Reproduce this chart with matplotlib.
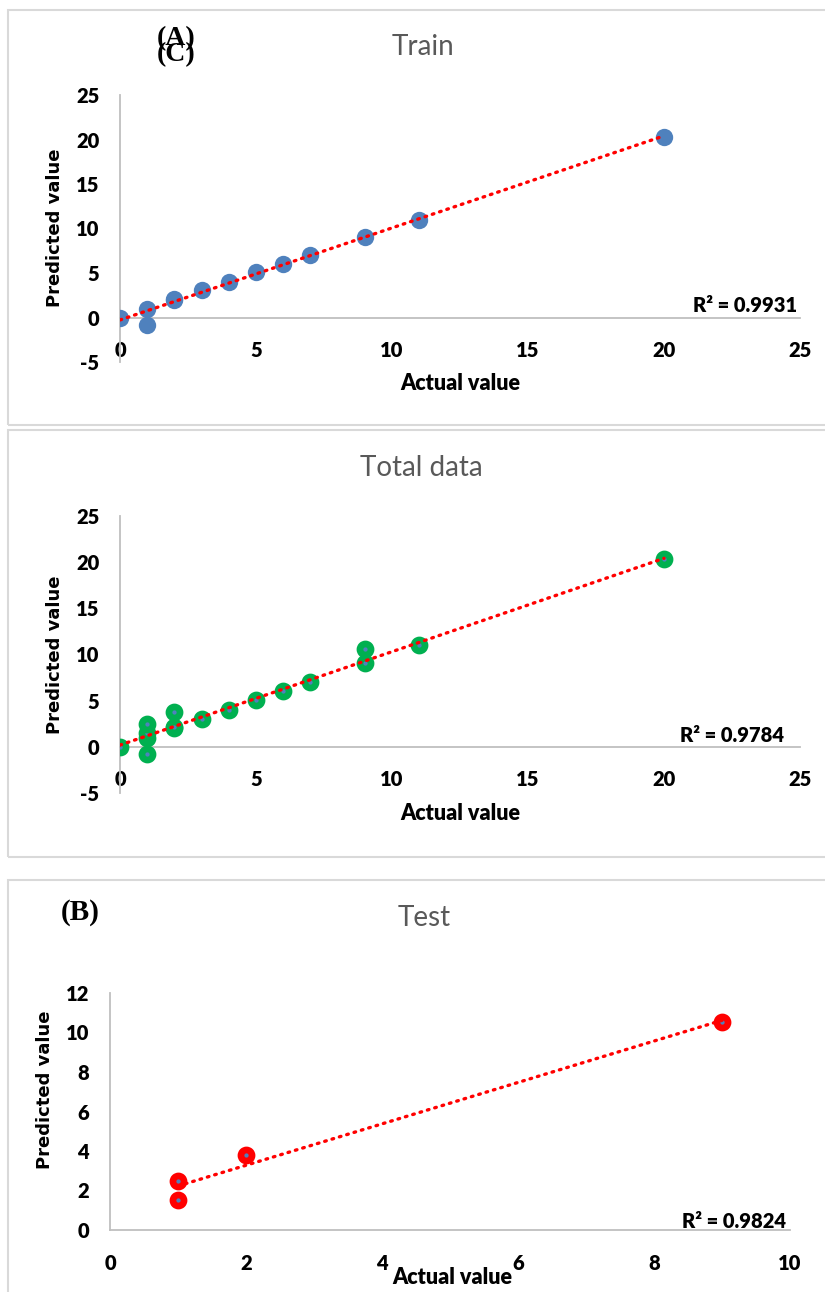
import matplotlib.pyplot as plt
import numpy as np
from matplotlib.patches import Rectangle

# train set
train_x = [0, 1, 1, 2, 2, 3, 4, 5, 6, 7, 9, 11, 20]
train_y = [0, 1.0, -0.8, 2.0, 2.1, 3.05, 4.0, 5.1, 6.0, 7.0, 9.1, 11.0, 20.3]

# test set
test_x = [1, 1, 2, 9]
test_y = [1.5, 2.5, 3.8, 10.55]

# total = train + test
total_x = train_x + test_x
total_y = train_y + test_y

r2_labels = ["R² = 0.9931", "R² = 0.9784", "R² = 0.9824"]
titles = ["Train", "Total data", "Test"]
ticks_25 = [-5, 0, 5, 10, 15, 20, 25]
ticks_x25 = [0, 5, 10, 15, 20, 25]
ticks_x10 = [0, 2, 4, 6, 8, 10]
ticks_y12 = [0, 2, 4, 6, 8, 10, 12]

W, H = 825, 1292
FONT = ["Lato", "DejaVu Sans"]
AXIS_GREY = "#bfbfbf"
BLUE = "#4f81bd"

plt.rcParams["axes.unicode_minus"] = False

fig = plt.figure(figsize=(W / 100, H / 100), dpi=100)


def fx(px):
    return px / W


def fy(py):
    return 1 - py / H


def add_axes(left, right, top, bottom):
    return fig.add_axes([fx(left), fy(bottom), fx(right) - fx(left), fy(top) - fy(bottom)])


def style_axes(ax, xlim, ylim, xticks, yticks, cross_zero):
    ax.set_xlim(*xlim)
    ax.set_ylim(*ylim)
    ax.set_xticks(xticks)
    ax.set_yticks(yticks)
    for side in ["top", "right"]:
        ax.spines[side].set_visible(False)
    for side in ["left", "bottom"]:
        ax.spines[side].set_color(AXIS_GREY)
        ax.spines[side].set_linewidth(1.3)
    if cross_zero:
        ax.spines["bottom"].set_position(("data", 0))
    ax.tick_params(axis="both", length=0, labelsize=14.5)
    ax.tick_params(axis="x", pad=17)
    ax.tick_params(axis="y", pad=15)
    for lab in ax.get_xticklabels() + ax.get_yticklabels():
        lab.set_fontfamily(FONT)
        lab.set_fontweight("heavy")
    ax.patch.set_alpha(0)


def trendline(ax, x, y):
    slope, intercept = np.polyfit(x, y, 1)
    xs = np.array([min(x), max(x)])
    ax.plot(xs, slope * xs + intercept, color="red", lw=2.4,
            linestyle=(0, (0.5, 1.8)), dash_capstyle="round", zorder=5)


def labels(title_xy, xlabel_xy, ylabel_xy, r2_xy, title, r2):
    fig.text(fx(title_xy[0]), fy(title_xy[1]), title, ha="center", va="center",
             fontsize=20, color="#595959", family=FONT)
    fig.text(fx(xlabel_xy[0]), fy(xlabel_xy[1]), "Actual value", ha="center", va="center",
             fontsize=15.5, fontweight="heavy", family=FONT)
    fig.text(fx(ylabel_xy[0]), fy(ylabel_xy[1]), "Predicted value", ha="center", va="center",
             rotation=90, fontsize=13, fontweight="bold", family="DejaVu Sans")
    fig.text(fx(r2_xy[0]), fy(r2_xy[1]), r2, ha="right", va="center",
             fontsize=14.5, fontweight="heavy", family=FONT)


# panel frames
for top, bottom in [(10, 425), (430, 857), (880, 1300)]:
    fig.patches.append(Rectangle((fx(8), fy(bottom)), fx(830) - fx(8), fy(top) - fy(bottom),
                                 transform=fig.transFigure, fill=False,
                                 edgecolor="#d9d9d9", lw=1.5))

# Train
ax1 = add_axes(120, 800, 95, 362)
style_axes(ax1, (0, 25), (-5, 25), ticks_x25, ticks_25, True)
ax1.plot(train_x, train_y, "o", color=BLUE, ms=12.5, mec="none", zorder=3)
trendline(ax1, train_x, train_y)
labels((423, 47), (460, 383), (55, 228), (797, 305), titles[0], r2_labels[0])
# the two panel letters overlap in the original figure
fig.text(fx(176), fy(39), "(A)", ha="center", va="center", fontsize=20,
         fontweight="bold", family="Liberation Serif")
fig.text(fx(176), fy(55), "(C)", ha="center", va="center", fontsize=20,
         fontweight="bold", family="Liberation Serif")

# Total data
ax2 = add_axes(120, 800, 516, 793)
style_axes(ax2, (0, 25), (-5, 25), ticks_x25, ticks_25, True)
ax2.plot(total_x, total_y, "o", color=BLUE, ms=8, mec="#00b050", mew=4.8, zorder=3)
trendline(ax2, total_x, total_y)
labels((421, 468), (460, 813), (55, 655), (784, 735), titles[1], r2_labels[1])

# Test
ax3 = add_axes(110, 790, 993, 1230)
style_axes(ax3, (0, 10), (0, 12), ticks_x10, ticks_y12, False)
ax3.plot(test_x, test_y, "o", color=BLUE, ms=8, mec="red", mew=4.8, zorder=3)
trendline(ax3, test_x, test_y)
labels((424, 918), (452, 1278), (45, 1090), (786, 1221), titles[2], r2_labels[2])
fig.text(fx(80), fy(912), "(B)", ha="center", va="center", fontsize=21,
         fontweight="bold", family="Liberation Serif")

fig.savefig("out.png", dpi=100)
